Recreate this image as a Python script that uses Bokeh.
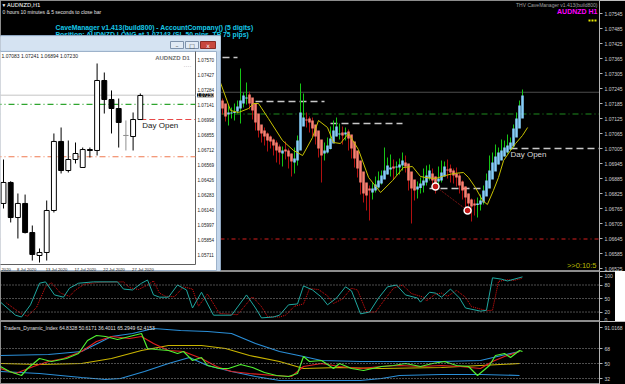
from bokeh.plotting import figure
from bokeh.models import Range1d, FixedTicker, Span, Label, ColumnDataSource, NumeralTickFormatter
from bokeh.layouts import column
from bokeh.embed import file_html
from bokeh.resources import INLINE
from bokeh.core.properties import value

# ---------------- data: H1 AUDNZD (Heikin-Ashi style bodies) ----------------
h1_bar = list(range(74, 175))
h1_open = [1.07197,1.07185,1.07141,1.07145,1.07147,1.07153,1.07165,1.07185,1.07205,1.07221,
           1.07209,1.07185,1.07145,1.07101,1.07077,1.07065,1.07053,1.07041,1.07029,1.07013,
           1.06985,1.07001,1.06997,1.06985,1.06949,1.06957,1.06997,1.07093,1.07121,1.07125,
           1.07117,1.07101,1.07077,1.07041,1.06985,1.06989,1.07003,1.07025,1.07053,1.07061,
           1.07069,1.07061,1.07073,1.07061,1.07033,1.06997,1.06957,1.06913,1.06869,1.06845,
           1.06829,1.06837,1.06849,1.06865,1.06881,1.06901,1.06921,1.06933,1.06929,1.06929,
           1.06937,1.06949,1.06945,1.06913,1.06881,1.06841,1.06847,1.06857,1.06869,1.06885,
           1.06905,1.06893,1.06873,1.06877,1.06893,1.06921,1.06925,1.06917,1.06905,1.06897,
           1.06873,1.06853,1.06825,1.06801,1.06785,1.06779,1.06781,1.06789,1.06813,1.06845,
           1.06881,1.06913,1.06941,1.06957,1.06973,1.06989,1.07001,1.07013,1.07049,1.07085,1.07125]
h1_close = [1.07165,1.07133,1.07149,1.07149,1.07153,1.07173,1.07197,1.07217,1.07209,1.07185,
            1.07157,1.07109,1.07077,1.07065,1.07053,1.07037,1.07033,1.07017,1.06997,1.06989,
            1.06997,1.06993,1.06973,1.06953,1.06965,1.07037,1.07149,1.07129,1.07117,1.07109,
            1.07085,1.07053,1.07005,1.06977,1.06997,1.07017,1.07045,1.07077,1.07093,1.07065,
            1.07057,1.07069,1.07045,1.07005,1.06965,1.06925,1.06869,1.06825,1.06817,1.06837,
            1.06845,1.06861,1.06877,1.06897,1.06917,1.06937,1.06929,1.06925,1.06933,1.06941,
            1.06957,1.06933,1.06877,1.06845,1.06837,1.06853,1.06865,1.06877,1.06897,1.06917,
            1.06877,1.06861,1.06885,1.06909,1.06933,1.06917,1.06909,1.06897,1.06889,1.06857,
            1.06837,1.06809,1.06785,1.06773,1.06777,1.06785,1.06797,1.06837,1.06877,1.06917,
            1.06949,1.06973,1.06989,1.06997,1.07009,1.07017,1.07029,1.07085,1.07125,1.07177,1.07217]
h1_high = [1.07205,1.07177,1.07177,1.07169,1.07185,1.07197,1.07325,1.07229,1.07269,1.07233,
           1.07201,1.07161,1.07121,1.07093,1.07089,1.07069,1.07057,1.07045,1.07037,1.07021,
           1.07013,1.07033,1.07005,1.06985,1.07009,1.07057,1.07265,1.07225,1.07149,1.07133,
           1.07129,1.07097,1.07065,1.07017,1.07029,1.07049,1.07093,1.07117,1.07129,1.07105,
           1.07093,1.07089,1.07081,1.07057,1.07017,1.06977,1.06941,1.06885,1.06837,1.06857,
           1.06869,1.06893,1.06913,1.06917,1.07009,1.06969,1.06981,1.06961,1.06953,1.06965,
           1.06989,1.06977,1.06941,1.06893,1.06869,1.06873,1.06889,1.06925,1.06937,1.06941,
           1.06925,1.06893,1.06933,1.06957,1.06953,1.06961,1.06941,1.06925,1.06929,1.06905,
           1.06877,1.06853,1.06825,1.06805,1.06801,1.06809,1.06821,1.06857,1.06905,1.06977,
           1.06989,1.07021,1.07009,1.07041,1.07037,1.07061,1.07049,1.07101,1.07149,1.07197,1.07241]
h1_low = [1.07141,1.07113,1.07097,1.07125,1.07117,1.07145,1.07105,1.07169,1.07181,1.07161,
          1.07121,1.07077,1.07049,1.07029,1.07017,1.06993,1.07005,1.06977,1.06949,1.06941,
          1.06933,1.06961,1.06925,1.06893,1.06905,1.06937,1.07029,1.07101,1.07089,1.07069,
          1.07053,1.07021,1.06969,1.06869,1.06957,1.06985,1.07001,1.07033,1.07053,1.07041,
          1.07021,1.07037,1.06997,1.06965,1.06929,1.06889,1.06821,1.06789,1.06757,1.06717,
          1.06801,1.06829,1.06845,1.06861,1.06885,1.06901,1.06893,1.06881,1.06897,1.06901,
          1.06917,1.06909,1.06837,1.06705,1.06797,1.06805,1.06825,1.06829,1.06857,1.06877,
          1.06853,1.06825,1.06849,1.06869,1.06893,1.06885,1.06869,1.06865,1.06853,1.06825,
          1.06801,1.06761,1.06749,1.06713,1.06737,1.06729,1.06757,1.06781,1.06817,1.06865,
          1.06901,1.06937,1.06941,1.06965,1.06973,1.06985,1.06997,1.07009,1.07069,1.07105,1.07161]

ma_k = [73.3,76.7,79.3,82.7,84.3,86,89.3,94,97.7,100.7,104,106,109,111,113.3,116,119.3,122.7,126.7,130.7,
        134.3,137.3,140,141.7,145,148.3,151,154.3,156,158.3,160.7,162.3,164.3,166,167.7,170,171.7,174,175.7]
ma_v = [1.07269,1.07157,1.07149,1.07165,1.07185,1.07185,1.07125,1.07037,1.06997,1.06977,1.07049,1.07117,
        1.07089,1.07029,1.07025,1.07065,1.07001,1.06889,1.06829,1.06877,1.06929,1.06933,1.06893,1.06889,
        1.06885,1.06897,1.06905,1.06909,1.06889,1.06849,1.06797,1.06781,1.06837,1.06889,1.06957,1.06997,
        1.07025,1.07057,1.07089]

main_ticks = [1.07545,1.07485,1.07425,1.07365,1.07305,1.07245,1.07185,1.07125,1.07065,1.07005,
              1.06945,1.06885,1.06825,1.06765,1.06705,1.06645,1.06585,1.06525]
last_price = 1.07230
entry_price = 1.07143
sl_price = 1.06643
lvl_k0 = [74, 85, 110, 143, 170]
lvl_k1 = [79, 108, 134, 160, 201]
lvl_p = [1.07369, 1.07193, 1.07105, 1.06845, 1.07005]
swing_k = [145, 155.7]
swing_p = [1.06853, 1.06757]

# ---------------- data: D1 inset ----------------
d_idx = list(range(20))
d_open = [1.06198,1.06398,1.06064,1.06198,1.05921,1.05702,1.05731,1.06131,1.06789,1.06512,
          1.06617,1.06541,1.06712,1.06703,1.07370,1.07189,1.07103,1.06846,1.06836,1.06998]
d_high = [1.06617,1.06410,1.06293,1.06283,1.05988,1.05769,1.06226,1.06865,1.06922,1.06798,
          1.06779,1.06731,1.06731,1.07532,1.07446,1.07275,1.07198,1.06989,1.07065,1.07246]
d_low = [1.06150,1.06017,1.05864,1.05912,1.05654,1.05635,1.05654,1.06112,1.06484,1.06493,
         1.06579,1.06541,1.06636,1.06655,1.07055,1.06865,1.06731,1.06703,1.06703,1.06998]
d_close = [1.06398,1.06064,1.06198,1.05921,1.05712,1.05731,1.06131,1.06789,1.06512,1.06617,
           1.06674,1.06712,1.06703,1.07370,1.07189,1.07103,1.06970,1.06846,1.06998,1.07227]
d_ticks = [1.07570,1.07427,1.07284,1.07141,1.06998,1.06855,1.06712,1.06569,1.06426,1.06283,
           1.06140,1.05997,1.05854,1.05711]
d_date_idx = [2, 6, 10, 14, 18]
d_date_lbl = ["8 Jul 2020", "13 Jul 2020", "17 Jul 2020", "22 Jul 2020", "27 Jul 2020"]
d_day_open = 1.06998

# ---------------- data: oscillator panel ----------------
sto_k = [0,5,7,10,13,15,18,21,23,26,31,39,41,44,47,49,51,53,56,59,62,64,67,71,77,82,85,87,91,93,
         96,99,101,104,107,109,112,115,117,120,123,126,129,132,135,139,140,143,145,147,150,153,155,160,162,164,167,169,174]
sto_v = [42,13,9,36,84,87,58,53,73,84,87,87,71,69,84,91,58,53,53,80,69,29,64,13,13,58,29,7,9,13,
         36,38,78,69,53,36,51,76,67,16,20,51,76,80,58,51,42,64,62,53,71,51,29,22,24,96,93,89,98]
sig_k = [2,7,9,12,15,17,20,23,25,28,33,41,43,46,49,51,53,55,58,61,64,66,69,73,79,84,87,89,93,95,
         98,101,103,106,109,111,114,117,119,122,125,128,131,134,137,141,142,145,147,149,152,155,157,162,164,166,169,171,174]
sig_v = [40,16,11,30,76,85,62,55,69,82,86,87,74,70,80,89,62,55,54,76,71,33,60,17,14,54,32,10,9,13,
         33,38,72,70,56,39,49,73,69,20,20,47,73,80,61,53,45,60,62,55,68,53,32,23,24,88,92,90,95]
osc_levels = [20, 50, 80]
osc_ticks = [0, 20, 50, 80, 100]

# ---------------- data: Traders Dynamic Index ----------------
up_k = [0,16,27,37,44,51,60,69,77,85,93,101,107,120,133,147,160,167,173]
up_v = [59.6,60.8,64.4,82.4,86,92,89.6,88.4,86,74,64.4,58.4,53.6,52.4,52.4,52.4,53.6,59.6,64.4]
lo_k = [0,13,27,35,40,48,56,63,69,77,85,93,101,120,127,133,147,160,173]
lo_v = [40.4,38,33.2,30.8,32,40.4,50,57.2,47.6,40.4,34.4,29.6,29.6,29.6,32,35.6,36.8,36.8,35.6]
mid_k = [0,13,27,37,47,56,67,75,83,93,101,113,127,147,160,173]
mid_v = [50,48.8,50,56,65.6,71.6,71.6,68,59.6,52.4,44,45.2,44,45.2,47.6,50]
red_k = [0,5,11,16,21,27,32,37,43,47,51,56,61,67,72,77,83,91,97,101,107,113,120,127,133,140,147,153,160,164,168,173]
red_v = [44,38,46.4,52.4,56,64.4,76.4,82.4,80,82.4,74,65.6,64.4,56,46.4,40.4,38,35.6,34.4,46.4,50,46.4,44,46.4,47.6,
         46.4,47.6,46.4,44,52.4,58.4,64.4]
grn_k = [0,3,7,9,13,17,22,26,29,32,35,39,43,47,49,52,56,59,61,64,67,69,73,76,80,84,88,92,96,99,101,103,107,111,113,
         117,121,127,131,135,140,144,148,152,156,159,163,165,168,170,173,174]
grn_v = [46.4,40.4,35.6,44,56,52.4,56,62,77.6,83.6,82.4,78.8,82.4,86,68,66.8,65.6,62,64.4,53.6,57.2,47.6,44,44,48.8,
         45.2,39.2,35.6,34.4,38,58.4,52.4,53.6,44,50,44,41.6,46.4,47.6,50,46.4,50,52.4,47.6,46.4,35.6,47.6,59.6,62,57.2,65.6,64.4]
tdi_levels = [32, 50, 68]
tdi_label = "Traders_Dynamic_Index 64.8328 50.6171 36.4011 65.2949 62.4153"

# ---------------- layout constants ----------------
FW = 599           # frame width in px
PXB = 3.0          # px per H1 bar
MAIN_H = 271
FONT = value("Liberation Sans")
AX_COL = "#B4B4B4"


def style_axis(fig, ticks, fmt=None, overrides=None):
    ax = fig.yaxis[0]
    ax.ticker = FixedTicker(ticks=ticks)
    if fmt:
        ax.formatter = NumeralTickFormatter(format=fmt)
    if overrides:
        ax.major_label_overrides = overrides
    ax.major_label_text_font_size = "5px"
    ax.major_label_text_font = "Liberation Sans"
    ax.major_label_text_color = "#D0D0D0"
    ax.axis_line_color = AX_COL
    ax.major_tick_line_color = AX_COL
    ax.minor_tick_line_color = None
    ax.major_tick_out = 3
    ax.major_tick_in = 0
    ax.major_label_standoff = 2
    fig.grid.visible = False


# ======================= main H1 chart =======================
p = figure(frame_width=FW, frame_height=MAIN_H, output_backend="svg", toolbar_location=None,
           x_range=Range1d(0, FW / PXB), y_range=Range1d(1.07597 - 0.00004 * MAIN_H, 1.07597),
           background_fill_color="black", border_fill_color="black", outline_line_color="#8C8C8C",
           min_border=0, y_axis_location="right", x_axis_location=None)
style_axis(p, main_ticks, fmt="0.00000")

# pixel-space range (for chart chrome) and D1 inset ranges
p.extra_x_ranges = {"px": Range1d(0, FW), "dx": Range1d(-3 / 7.2, (FW - 3) / 7.2)}
p.extra_y_ranges = {"px": Range1d(MAIN_H, 0),
                    "dy": Range1d(1.07570 - (MAIN_H - 59) * 0.0000953, 1.07570 + 59 * 0.0000953)}

bull = [c >= o for o, c in zip(h1_open, h1_close)]
src = ColumnDataSource(dict(k=h1_bar, o=h1_open, c=h1_close, h=h1_high, l=h1_low,
                            wick=["#16C416" if b else "#B01010" for b in bull],
                            body=["#87CEFA" if b else "#FA8072" for b in bull]))

# horizontal levels
xs0, xs1 = 0, FW / PXB
p.segment(x0=[xs0], x1=[xs1], y0=[last_price], y1=[last_price], line_color="#4C4C4C", line_width=1)
p.segment(x0=[xs0], x1=[xs1], y0=[entry_price], y1=[entry_price], line_color="#1F8A1F",
          line_width=1.2, line_dash="6 3 1 3")
p.segment(x0=[xs0], x1=[xs1], y0=[sl_price], y1=[sl_price], line_color="#8E1414",
          line_width=1.5, line_dash="4 3 1 3")
p.segment(x0=lvl_k0, x1=lvl_k1, y0=lvl_p, y1=lvl_p, line_color="#C8C8C8", line_width=1.5, line_dash="7 4")

# candles
p.segment(x0="k", x1="k", y0="l", y1="h", line_color="wick", line_width=1, source=src)
p.vbar(x="k", width=0.85, top="c", bottom="o", fill_color="body", line_color=None, source=src)

# moving average
p.line(ma_k, ma_v, line_color="#C8C200", line_width=1)

# swing markers
p.line(swing_k, swing_p, line_color="#A01818", line_width=1, line_dash="1 1")
p.scatter(swing_k, swing_p, size=7, fill_color="#C01818", line_color="white", line_width=1.5)

# texts on main chart
p.text(x=[2], y=[4], text=["\u25BE AUDNZD,H1"], x_range_name="px", y_range_name="px",
       text_font=value("DejaVu Sans"), text_font_size="5.5px", text_color="white", text_baseline="middle")
p.text(x=[2], y=[11], text=["0 hours 10 minutes & 5 seconds to close bar"], x_range_name="px", y_range_name="px",
       text_font=FONT, text_font_size="5px", text_color="#E0E0E0", text_baseline="middle")
p.text(x=[55, 55], y=[27, 34],
       text=["CaveManager v1.413(build800) - AccountCompany() (5 digits)",
             "Position: AUDNZD LONG at 1.07143 (SL 50 pips, TP 75 pips)"],
       x_range_name="px", y_range_name="px", text_font=FONT, text_font_size="6.8px",
       text_font_style="bold", text_color="#16C8E8", text_baseline="middle")
p.text(x=[FW - 2], y=[4], text=["THV CaveManager v1.413(build800)"], x_range_name="px", y_range_name="px",
       text_font=FONT, text_font_size="5px", text_color="#A0A0A0", text_align="right", text_baseline="middle")
p.text(x=[FW - 2], y=[11], text=["AUDNZD H1"], x_range_name="px", y_range_name="px",
       text_font=FONT, text_font_size="7px", text_font_style="bold", text_color="#FF00FF",
       text_align="right", text_baseline="middle")
p.segment(x0=[FW - 11], x1=[FW - 2], y0=[20], y1=[20], x_range_name="px", y_range_name="px",
          line_color="#E8E800", line_width=2, line_dash="2 1")
p.text(x=[lvl_k0[-1]], y=[lvl_p[-1]], text=["Day Open"], text_font=FONT, text_font_size="8px",
       text_color="#D8D8D8", text_baseline="top", y_offset=1)
p.text(x=[FW - 3], y=[265], text=[">>0:10:5"], x_range_name="px", y_range_name="px",
       text_font=FONT, text_font_size="7.5px", text_color="#B8B800", text_align="right", text_baseline="middle")

# ---------------- D1 inset window (chrome in px space) ----------------
p.quad(left=[-5], right=[220], top=[35], bottom=[MAIN_H], x_range_name="px", y_range_name="px",
       fill_color="#C3D6EB", line_color="#8FA6C0")
p.quad(left=[-5], right=[220], top=[36], bottom=[50], x_range_name="px", y_range_name="px",
       fill_color="#D5E3F2", line_color=None)
p.quad(left=[-5], right=[216], top=[51], bottom=[MAIN_H - 1], x_range_name="px", y_range_name="px",
       fill_color="white", line_color="#9DB2CA")
p.quad(left=[170, 185], right=[183, 198], top=[41, 41], bottom=[48, 48], x_range_name="px", y_range_name="px",
       fill_color="#E2EBF5", line_color="#7F93AC")
p.quad(left=[200], right=[215], top=[41], bottom=[48], x_range_name="px", y_range_name="px",
       fill_color="#C8473D", line_color="#8A2B25")
p.text(x=[176.5, 191.5, 207.5], y=[44.5, 44.5, 44.5], text=["\u2013", "\u25A1", "x"],
       x_range_name="px", y_range_name="px", text_font=value("DejaVu Sans"), text_font_size="6px",
       text_color=["#404040", "#404040", "white"], text_align="center", text_baseline="middle")
p.segment(x0=[195], x1=[195], y0=[51], y1=[264], x_range_name="px", y_range_name="px",
          line_color="#606060", line_width=1)
p.segment(x0=[-5], x1=[195], y0=[264], y1=[264], x_range_name="px", y_range_name="px",
          line_color="#606060", line_width=1)
p.text(x=[1], y=[55], text=["1.07083 1.07241 1.06894 1.07230"], x_range_name="px", y_range_name="px",
       text_font=FONT, text_font_size="5px", text_color="#202020", text_baseline="middle")
p.text(x=[191], y=[57], text=["AUDNZD  D1"], x_range_name="px", y_range_name="px",
       text_font=FONT, text_font_size="6px", text_font_style="bold", text_color="#707070",
       text_align="right", text_baseline="middle")
p.text(x=[191], y=[65], text=["\u00B7\u00B7\u00B7\u00B7"], x_range_name="px", y_range_name="px",
       text_font=FONT, text_font_size="6px", text_color="#909090", text_align="right", text_baseline="middle")

# inset levels (x in px space, y in D1 price space)
p.segment(x0=[-5], x1=[195], y0=[last_price], y1=[last_price], x_range_name="px", y_range_name="dy",
          line_color="#C4C4C4", line_width=1)
p.segment(x0=[-5], x1=[195], y0=[entry_price], y1=[entry_price], x_range_name="px", y_range_name="dy",
          line_color="#2EA52E", line_width=1.2, line_dash="6 3 1 3")
p.segment(x0=[-5], x1=[195], y0=[sl_price], y1=[sl_price], x_range_name="px", y_range_name="dy",
          line_color="#F07A50", line_width=1.2, line_dash="6 3 1 3")
p.segment(x0=[d_idx[-1]], x1=[26.6], y0=[d_day_open], y1=[d_day_open], x_range_name="dx", y_range_name="dy",
          line_color="#E84848", line_width=1.2, line_dash="6 3")
p.text(x=[d_idx[-1]], y=[d_day_open], text=["Day Open"], x_range_name="dx", y_range_name="dy",
       text_font=FONT, text_font_size="8px", text_color="#202020", text_baseline="top", x_offset=2, y_offset=1)

# inset candles
dbull = [c > o for o, c in zip(d_open, d_close)]
dflat = [abs(c - o) < 0.00002 for o, c in zip(d_open, d_close)]
dsrc = ColumnDataSource(dict(j=d_idx, o=d_open, c=d_close, h=d_high, l=d_low,
                             fill=["#909090" if f else ("white" if b else "black") for b, f in zip(dbull, dflat)],
                             line=["#909090" if f else "black" for f in dflat]))
p.segment(x0="j", x1="j", y0="l", y1="h", line_color="line", line_width=1, source=dsrc,
          x_range_name="dx", y_range_name="dy")
p.vbar(x="j", width=0.68, top="c", bottom="o", fill_color="fill", line_color="line", line_width=1,
       source=dsrc, x_range_name="dx", y_range_name="dy")

# inset axis labels
p.text(x=[197] * len(d_ticks), y=d_ticks, text=["%.5f" % t for t in d_ticks], x_range_name="px",
       y_range_name="dy", text_font=FONT, text_font_size="4.6px", text_color="#202020", text_baseline="middle")
p.text(x=[196.5], y=[last_price], text=["%.5f" % last_price], x_range_name="px", y_range_name="dy",
       text_font=FONT, text_font_size="4.6px", text_color="white", text_baseline="middle",
       background_fill_color="black")
p.text(x=[1], y=[268.5], text=["2020"], x_range_name="px", y_range_name="px",
       text_font=FONT, text_font_size="4.2px", text_color="#202020", text_baseline="middle")
p.text(x=d_date_idx, y=[268.5] * len(d_date_idx), text=d_date_lbl, x_range_name="dx", y_range_name="px",
       text_font=FONT, text_font_size="4.2px", text_color="#202020", text_baseline="middle", x_offset=-1)

# current price box on the main axis
p.add_layout(Label(x=FW / PXB, y=last_price, text="%.5f" % last_price, text_font="Liberation Sans",
                   text_font_size="5px", text_color="black", text_baseline="middle", x_offset=3,
                   background_fill_color="white"))

# ======================= oscillator panel =======================
p1 = figure(frame_width=FW, frame_height=50, output_backend="svg", toolbar_location=None,
            x_range=p.x_range, y_range=Range1d(-1, 110),
            background_fill_color="black", border_fill_color="black", outline_line_color="#8C8C8C",
            min_border=0, y_axis_location="right", x_axis_location=None)
style_axis(p1, osc_ticks)
for lv in osc_levels:
    p1.add_layout(Span(location=lv, dimension="width", line_color="#9A9A9A", line_dash="1 2", line_width=1))
p1.line(sig_k, sig_v, line_color="#E01010", line_width=1, line_dash="1 1")
p1.line(sto_k, sto_v, line_color="#1FA8A0", line_width=1)

# ======================= TDI panel =======================
p2 = figure(frame_width=FW, frame_height=63, output_backend="svg", toolbar_location=None,
            x_range=p.x_range, y_range=Range1d(24.8, 100.4),
            background_fill_color="black", border_fill_color="black", outline_line_color="#8C8C8C",
            min_border=0, y_axis_location="right", x_axis_location=None)
style_axis(p2, [32, 50, 68, 93], overrides={93: "91.0168"})
for lv in tdi_levels:
    p2.add_layout(Span(location=lv, dimension="width", line_color="#9A9A9A", line_dash="1 2", line_width=1))
p2.line(up_k, up_v, line_color="#2A8FD8", line_width=1.2)
p2.line(lo_k, lo_v, line_color="#2A8FD8", line_width=1.2)
p2.line(mid_k, mid_v, line_color="#C8B400", line_width=1.2)
p2.line(red_k, red_v, line_color="#E02020", line_width=1.2)
p2.line(grn_k, grn_v, line_color="#50F030", line_width=1.2)
p2.text(x=[1], y=[93.2], text=[tdi_label], text_font=FONT, text_font_size="5px",
        text_color="#E0E0E0", text_baseline="middle")

layout = column(p, p1, p2, spacing=0)
open("out.html", "w").write(file_html(layout, INLINE))
